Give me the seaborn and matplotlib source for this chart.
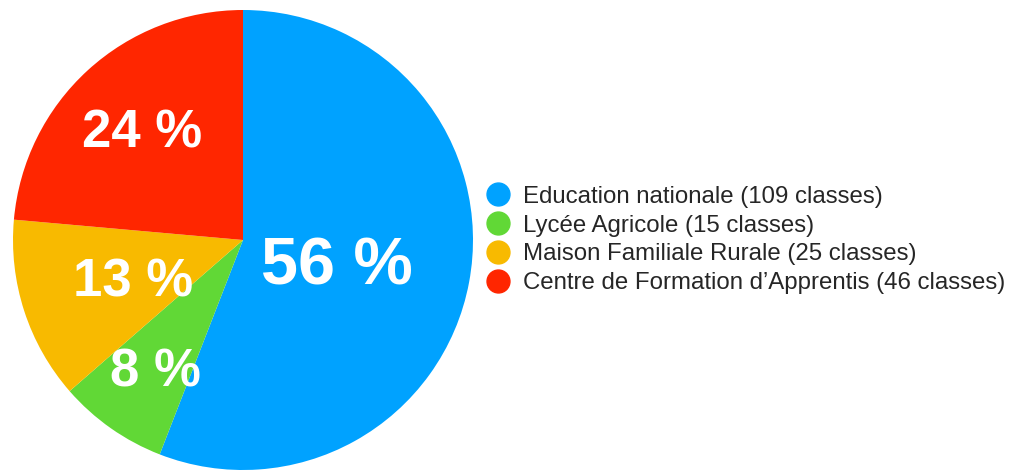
import matplotlib
matplotlib.use("Agg")
import matplotlib.pyplot as plt
from matplotlib.lines import Line2D
import seaborn as sns

sns.set_style("white")
plt.rcParams["font.family"] = ["Liberation Sans", "DejaVu Sans"]

categories = ["Education nationale", "Lycée Agricole", "Maison Familiale Rurale",
              "Centre de Formation d’Apprentis"]
classes = [109, 15, 25, 46]
pct_labels = ["56 %", "8 %", "13 %", "24 %"]
colors = ["#00A2FF", "#61D836", "#F8BA00", "#FF2600"]

W, H = 1011, 470
fig = plt.figure(figsize=(W / 100, H / 100), dpi=100)
ax = fig.add_axes([13 / W, 0, 460 / W, 460 / H])

wedges, _ = ax.pie(classes, colors=colors, startangle=90, counterclock=False,
                   wedgeprops={"linewidth": 0})
ax.set_aspect("equal")
ax.set_xlim(-1, 1); ax.set_ylim(-1, 1)
ax.axis("off")

# label positions (in pie radius units) and sizes
label_pos = [(0.41, -0.12), (-0.38, -0.575), (-0.48, -0.185), (-0.44, 0.462)]
label_size = [48, 38, 38, 38]
for txt, (x, y), s in zip(pct_labels, label_pos, label_size):
    ax.text(x, y, txt, color="white", fontsize=s, fontweight="bold",
            ha="center", va="center")

handles = [Line2D([], [], marker="o", ls="", markersize=16.5, color=c) for c in colors]
labels = [f"{c} ({n} classes)" for c, n in zip(categories, classes)]
fig.legend(handles, labels, loc="center left", bbox_to_anchor=(484 / W, 230 / H),
           frameon=False, fontsize=17.3, handletextpad=0.44, labelspacing=0.28,
           borderaxespad=0, borderpad=0, handlelength=1.2)

fig.savefig("out.png", dpi=100)
